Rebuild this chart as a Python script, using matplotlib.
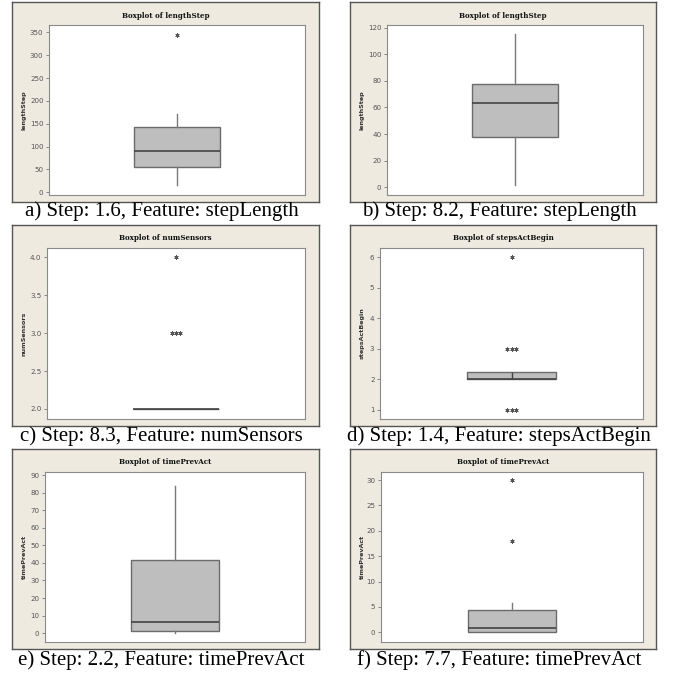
import matplotlib
matplotlib.use("Agg")
import matplotlib.pyplot as plt
import numpy as np

# ---------------- data ----------------
titles = ["Boxplot of lengthStep", "Boxplot of lengthStep", "Boxplot of numSensors",
          "Boxplot of stepsActBegin", "Boxplot of timePrevAct", "Boxplot of timePrevAct"]
ylabels = ["lengthStep", "lengthStep", "numSensors", "stepsActBegin", "timePrevAct", "timePrevAct"]
captions = ["a) Step: 1.6, Feature: stepLength", "b) Step: 8.2, Feature: stepLength",
            "c) Step: 8.3, Feature: numSensors", "d) Step: 1.4, Feature: stepsActBegin",
            "e) Step: 2.2, Feature: timePrevAct", "f) Step: 7.7, Feature: timePrevAct"]
q1 = [56, 38, 2.0, 2.0, 0.9, 0.0]
med = [91, 63, 2.0, 2.0, 6.3, 0.9]
q3 = [143, 78, 2.0, 2.25, 41.7, 4.4]
whislo = [16, 2, 2.0, 2.0, 0.3, 0.0]
whishi = [172, 115, 2.0, 2.25, 84, 5.8]
fliers = [[345], [], [3, 3, 3, 4], [1, 1, 1, 3, 3, 3, 6], [], [18, 30]]
center_line = [False, False, False, True, False, False]
yticks = [list(range(0, 351, 50)), list(range(0, 121, 20)), [2.0, 2.5, 3.0, 3.5, 4.0],
          [1, 2, 3, 4, 5, 6], list(range(0, 91, 10)), list(range(0, 31, 5))]
ytickfmt = ["{:.0f}", "{:.0f}", "{:.1f}", "{:.0f}", "{:.0f}", "{:.0f}"]
ylims = [(-6, 366), (-5.8, 122), (1.868, 4.124), (0.695, 6.31), (-5.1, 91.9), (-1.9, 31.6)]

# ---------------- layout (pixels) ----------------
W, H = 677, 674
frame_x = [(12, 319), (350, 656)]
frame_y = [(2, 202), (225, 426), (449, 649)]
plot_x = [[(49, 305), (387, 643)], [(47, 305), (380, 643)], [(45, 305), (381, 643)]]
plot_y = [(25, 195), (248, 419), (472, 642)]
caption_y = [211, 436, 660]
ylabel_x = [(24, 362), (24, 362), (24, 362)]

def fr(x0, y0, x1, y1):
    return [x0 / W, 1 - y1 / H, (x1 - x0) / W, (y1 - y0) / H]

BEIGE = "#eeeae0"
fig = plt.figure(figsize=(W / 100, H / 100), dpi=100)
fig.patch.set_facecolor("white")

for i in range(6):
    r, c = divmod(i, 2)
    fx0, fx1 = frame_x[c]
    fy0, fy1 = frame_y[r]
    fax = fig.add_axes(fr(fx0, fy0, fx1, fy1))
    fax.set_facecolor(BEIGE)
    fax.set_xticks([]); fax.set_yticks([])
    for s in fax.spines.values():
        s.set_color("#555555"); s.set_linewidth(1.0)
    fig.text((fx0 + fx1) / 2 / W, 1 - (fy0 + 13.5) / H, titles[i], ha="center", va="center",
             fontsize=5.1, fontweight="bold", family="DejaVu Serif", color="#111111")

    px0, px1 = plot_x[r][c]
    py0, py1 = plot_y[r]
    ax = fig.add_axes(fr(px0, py0, px1, py1))
    ax.set_facecolor("white")
    for s in ax.spines.values():
        s.set_color("#8a8a8a"); s.set_linewidth(0.8)
    stats = [dict(med=med[i], q1=q1[i], q3=q3[i], whislo=whislo[i], whishi=whishi[i], fliers=[])]
    ax.bxp(stats, positions=[0.5], widths=0.335, showfliers=False, showcaps=False,
           patch_artist=True,
           boxprops=dict(facecolor="#bebebe", edgecolor="#6b6b6b", linewidth=1.0),
           medianprops=dict(color="#444444", linewidth=1.2),
           whiskerprops=dict(color="#7a7a7a", linewidth=1.0))
    if center_line[i]:
        ax.vlines(0.5, q1[i], q3[i], color="#444444", linewidth=1.0)
    # outliers: duplicates spread horizontally like Minitab
    vals = np.array(fliers[i], dtype=float)
    for v in np.unique(vals):
        n = int(np.sum(vals == v))
        offs = (np.arange(n) - (n - 1) / 2) * 0.017
        ax.plot(0.5 + offs, [v] * n, linestyle="none", marker=(6, 2, 0),
                markersize=3.0, markeredgewidth=0.6, color="#555555")
    ax.set_xlim(0, 1)
    ax.set_ylim(*ylims[i])
    ax.set_xticks([])
    ax.set_yticks(yticks[i])
    ax.set_yticklabels([ytickfmt[i].format(t) for t in yticks[i]])
    ax.tick_params(axis="y", length=2.5, width=0.6, color="#777777", labelsize=5.1,
                   labelcolor="#555555", pad=1.5)
    fig.text(ylabel_x[r][c] / W, 1 - (py0 + py1) / 2 / H, ylabels[i], rotation=90,
             ha="center", va="center", fontsize=4.6, fontweight="bold", color="#333333")

    fig.text((fx0 + fx1) / 2 / W - 4 / W, 1 - caption_y[r] / H, captions[i], ha="center",
             va="center", fontsize=15, family="Liberation Serif", color="black")

fig.savefig("out.png", dpi=100, facecolor="white")
